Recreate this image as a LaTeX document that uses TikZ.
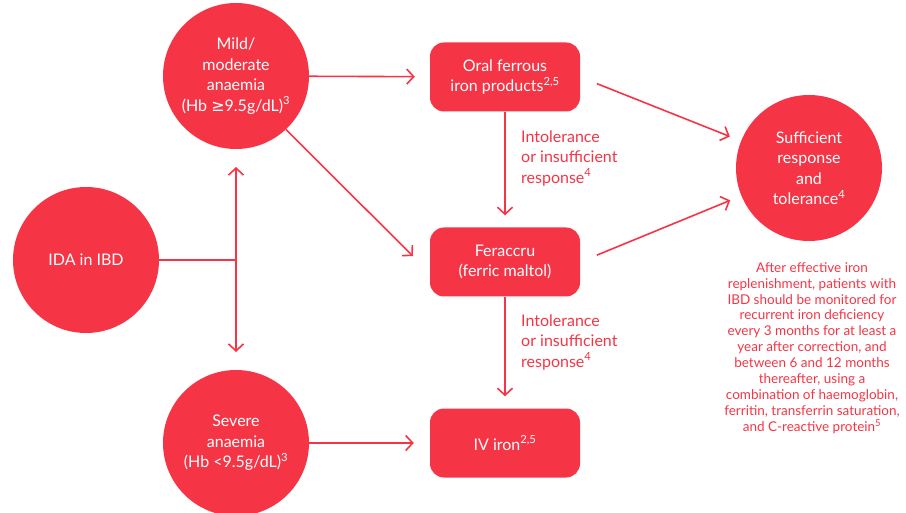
\documentclass[tikz,border=0pt]{standalone}
\usepackage{fontspec}
\setmainfont{Lato}
\newfontfamily\symfont{DejaVu Sans}
\usetikzlibrary{arrows.meta}
\definecolor{ibdred}{RGB}{245,53,69}

\begin{document}
\begin{tikzpicture}[
  x=1pt, y=-1pt,
  >={Straight Barb[length=7pt,width=15pt]},
  circ/.style={circle, fill=ibdred, text=white, minimum size=146pt, inner sep=0pt, align=center, font=\fontsize{16}{20.5}\selectfont},
  box/.style={rectangle, rounded corners=14pt, fill=ibdred, text=white, minimum width=150pt, minimum height=69pt, align=center, font=\fontsize{16}{20.5}\selectfont},
  lbl/.style={anchor=west, inner sep=0pt, text=ibdred, align=left, font=\fontsize{16}{20.5}\selectfont},
  note/.style={inner sep=0pt, text=ibdred, align=center, font=\fontsize{13.5}{15.9}\selectfont},
  line/.style={->, line width=1.6pt, draw=ibdred}
]
\useasboundingbox (0,0) rectangle (906,513);

\node[circ] (mild) at (236,76) {Mild/\\moderate\\anaemia\\(Hb {\symfont ≥}9.5g/dL)\textsuperscript{3}};
\node[circ] (ida) at (86,260) {IDA in IBD};
\node[circ] (severe) at (236,443) {Severe\\anaemia\\(Hb <9.5g/dL)\textsuperscript{3}};
\node[circ] (sufficient) at (809,168) {Sufficient\\response\\and\\tolerance\textsuperscript{4}};

\node[box] (oral) at (505,77) {Oral ferrous\\iron products\textsuperscript{2,5}};
\node[box] (feraccru) at (505,262) {Feraccru\\(ferric maltol)};
\node[box] (iv) at (505,443) {IV iron\textsuperscript{2,5}};

\node[lbl] (lbl1) at (521,158) {Intolerance\\or insufficient\\response\textsuperscript{4}};
\node[lbl] (lbl2) at (521,342) {Intolerance\\or insufficient\\response\textsuperscript{4}};

\node[note] (note) at (812,348) {After effective iron\\
replenishment, patients with\\
IBD should be monitored for\\
recurrent iron deficiency\\
every 3 months for at least a\\
year after correction, and\\
between 6 and 12 months\\
thereafter, using a\\
combination of haemoglobin,\\
ferritin, transferrin saturation,\\
and C-reactive protein\textsuperscript{5}};

\coordinate (split) at (236,260);
\coordinate (uptip) at (236,167);
\coordinate (downtip) at (236,352);

% Arrows
\draw [line, -] (ida) -- (split);
\draw [line, <->] (uptip) -- (downtip);
\draw [line, shorten >=15pt] (mild) -- (oral);
\draw [line, shorten >=24pt] (mild.-47) -- ([yshift=-11pt]feraccru.west);
\draw [line, shorten >=16pt] (severe) -- (iv);
\draw [line, shorten >=12pt] (oral) -- (feraccru);
\draw [line, shorten >=12pt] (feraccru) -- (iv);
\draw [line, shorten <=18pt, shorten >=12pt] (oral.east) -- (sufficient);
\draw [line, shorten <=18pt, shorten >=12pt] (feraccru.east) -- (sufficient);

\end{tikzpicture}
\end{document}
